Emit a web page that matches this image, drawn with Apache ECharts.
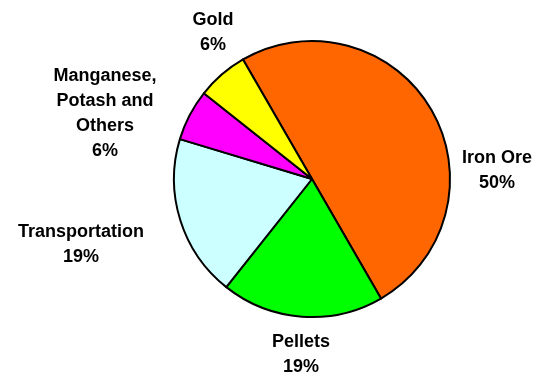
<!DOCTYPE html>
<html>
<head>
<meta charset="utf-8">
<script src="https://cdn.jsdelivr.net/npm/echarts@6/dist/echarts.min.js"></script>
<style>html,body{margin:0;padding:0;background:#fff;}#c{width:551px;height:378px;}</style>
</head>
<body>
<div id="c"></div>
<script>
var categories = ['Iron Ore', 'Pellets', 'Transportation', 'Manganese,\nPotash and\nOthers', 'Gold'];
var values = [50, 19, 19, 6, 6];
var colors = ['#FF6600', '#00FF00', '#CCFFFF', '#FF00FF', '#FFFF00'];

// label anchor offsets from pie centre (style only)
var labelOffsets = [[185, -8], [-11, 176], [-231, 66], [-207, -65], [-99, -146]];
var cx = 312, cy = 179;

var chart = echarts.init(document.getElementById('c'));
chart.setOption({
  animation: false,
  series: [{
    type: 'pie',
    center: [cx, cy],
    radius: [0, 138],
    startAngle: 120,
    clockwise: true,
    data: categories.map(function (c, i) {
      return { name: c, value: values[i], itemStyle: { color: colors[i] } };
    }),
    itemStyle: { borderColor: '#000', borderWidth: 2 },
    label: {
      show: true,
      position: 'inside',
      formatter: '{b}\n{d}%',
      fontFamily: 'Liberation Sans, Arial, sans-serif',
      fontWeight: 'bold',
      fontSize: 18,
      lineHeight: 25,
      color: '#000',
      align: 'center',
      overflow: 'none'
    },
    labelLine: { show: false },
    labelLayout: function (p) {
      var o = labelOffsets[p.dataIndex];
      return { x: cx + o[0], y: cy + o[1], align: 'center', verticalAlign: 'middle' };
    },
    emphasis: { disabled: true }
  }]
});
</script>
</body>
</html>
